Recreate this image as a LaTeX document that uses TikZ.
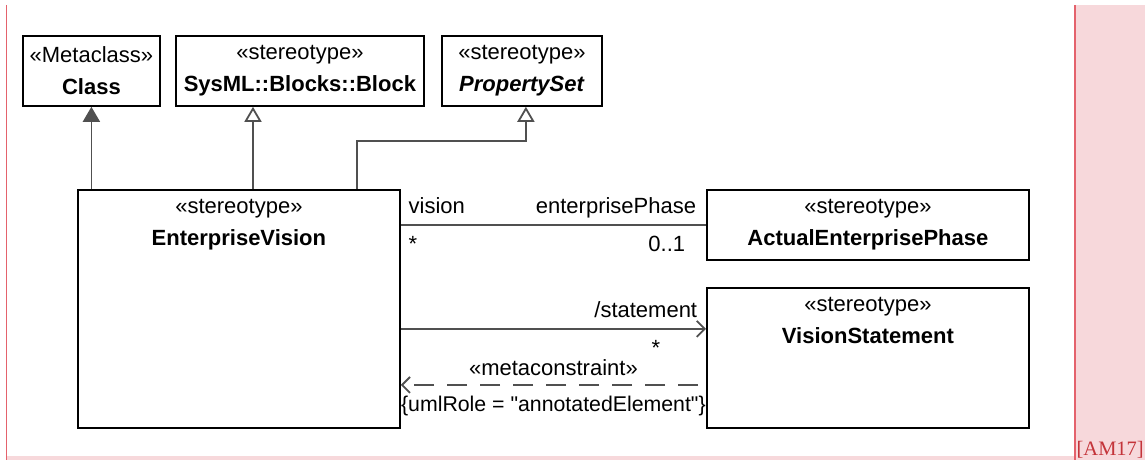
\documentclass[tikz,border=0pt]{standalone}
\usepackage{fontspec}
\setmainfont{Liberation Sans}[Ligatures=TeXOff]
\newfontfamily\citefont{Liberation Serif}
\usetikzlibrary{arrows.meta,positioning,calc}
\definecolor{notepink}{RGB}{247,216,219}
\definecolor{notered}{RGB}{228,98,108}
\definecolor{citered}{RGB}{196,52,58}
\definecolor{linegray}{RGB}{80,80,80}
\tikzset{
  classbox/.style={draw,line width=1.8pt,rectangle,anchor=north west,align=center,inner sep=0pt},
  boxtext/.style={anchor=north,align=center,inner sep=0pt},
  conn/.style={draw=linegray,line width=1.8pt},
  ext/.style={conn,-{Triangle[length=15pt,width=17pt,fill=linegray]}},
  gen/.style={conn,-{Triangle[open,length=15pt,width=17pt,fill=white]}},
  navi/.style={conn,-{Straight Barb[length=8pt,width=16pt]}},
  dep/.style={conn,dash pattern=on 20pt off 13pt,dash phase=25pt,-{Straight Barb[length=8pt,width=16pt]}},
  endlbl/.style={inner sep=0pt}
}
\begin{document}
\begin{tikzpicture}[x=1pt,y=-1pt,font=\fontsize{22}{32}\selectfont]
\useasboundingbox (0,0) rectangle (1146,460);
\fill[notepink] (1074,5) rectangle (1145,460);\fill[notepink] (7,456) rectangle (1074,460);
\draw[notered,line width=1.5pt] (6.5,5)--(6.5,460);\draw[notered,line width=2pt] (1075,5)--(1075,460);
\node[citered,anchor=base east,inner sep=0pt,font=\citefont\fontsize{20.5}{24}\selectfont] (cite) at (1144,455) {[AM17]};
\node[classbox,minimum width=137pt,minimum height=70pt] (cls) at (22,35) {«Metaclass»\\\textbf{Class}};
\node[classbox,minimum width=248pt,minimum height=70pt] (blk) at (175,35) {«stereotype»\\\textbf{SysML::Blocks::Block}};
\node[classbox,minimum width=160pt,minimum height=70pt] (ps) at (441,35) {«stereotype»\\\textbf{\textit{PropertySet}}};
\node[classbox,minimum width=322pt,minimum height=238pt] (ev) at (77,189) {};
\node[boxtext] (evt) at ([yshift=-10pt]ev.north) {«stereotype»\\\textbf{EnterpriseVision}};
\node[classbox,minimum width=322pt,minimum height=70pt] (aep) at (706,189) {«stereotype»\\\textbf{ActualEnterprisePhase}};
\node[classbox,minimum width=322pt,minimum height=140pt] (vs) at (706,287) {};
\node[boxtext] (vst) at ([yshift=-10pt]vs.north) {«stereotype»\\\textbf{VisionStatement}};
\draw[ext] (cls.south |- ev.north)--(cls.south);
\draw[gen] ([xshift=176pt]ev.north west)--([xshift=176pt]ev.north west |- blk.south);
\draw[gen] ([xshift=280pt]ev.north west)--++(0,-48)-|([xshift=4pt]ps.south);
\coordinate (st) at ([yshift=29pt]vs.west);\coordinate (dp) at ([yshift=-27pt]vs.west);
\draw[conn] (ev.east |- aep.west)--(aep.west)
  node[endlbl,pos=0,anchor=base west,xshift=7pt,yshift=11pt] (visl) {vision}
  node[endlbl,pos=0,anchor=base west,xshift=7pt,yshift=-27pt] (vism) {*}
  node[endlbl,pos=1,anchor=base east,xshift=-9pt,yshift=11pt] (epl) {enterprisePhase}
  node[endlbl,pos=1,anchor=base east,xshift=-20pt,yshift=-27pt] (epm) {0..1};
\draw[navi] (ev.east |- st)--(st)
  node[endlbl,pos=1,anchor=base east,xshift=-8pt,yshift=11pt] (stl) {/statement}
  node[endlbl,pos=1,anchor=base east,xshift=-45pt,yshift=-27pt] (stm) {*};
\draw[dep] (dp)--(ev.east |- dp)
  node[endlbl,midway,anchor=base,yshift=9pt] (mcl) {«metaconstraint»}
  node[endlbl,midway,anchor=base,yshift=-27pt,font=\fontsize{21.3}{32}\selectfont] (mcr) {\{umlRole = "annotatedElement"\}};
\end{tikzpicture}
\end{document}
